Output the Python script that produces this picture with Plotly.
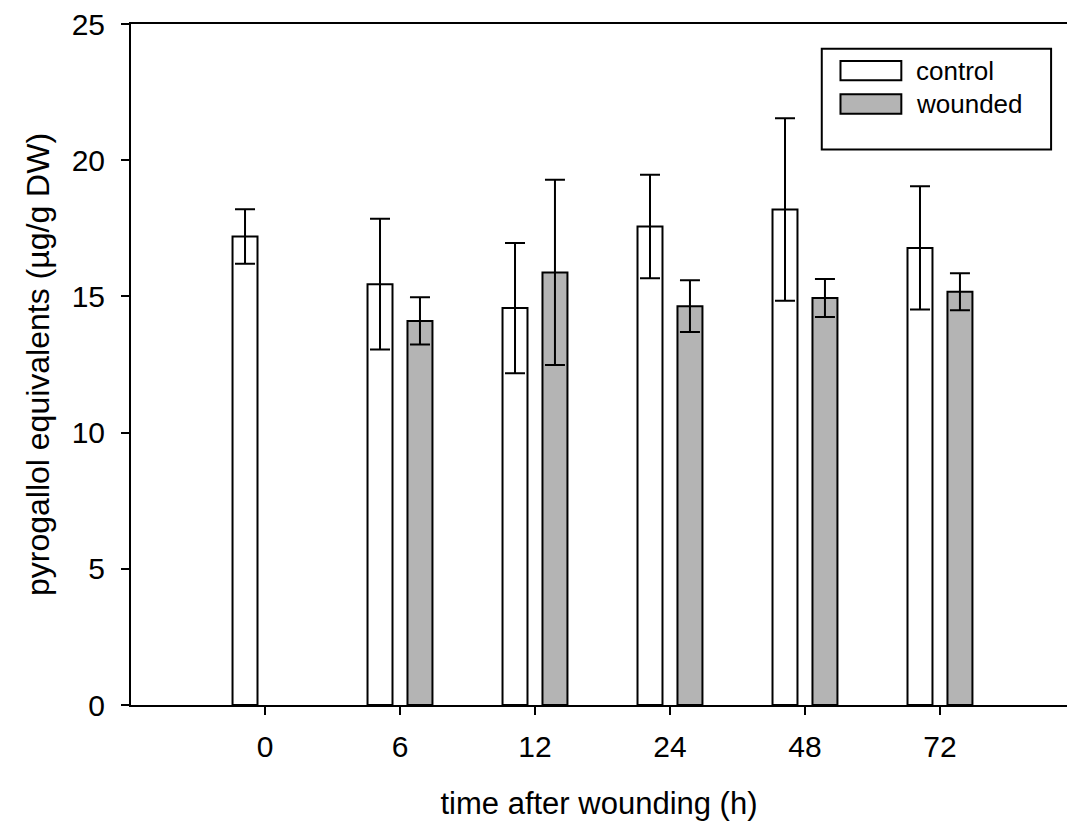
import plotly.graph_objects as go

# Sampling times (h) and group means / standard deviations
times = ["0", "6", "12", "24", "48", "72"]
control = [17.2, 15.45, 14.57, 17.57, 18.19, 16.78]
control_sd = [1.0, 2.4, 2.39, 1.9, 3.35, 2.26]
wounded = [None, 14.1, 15.88, 14.64, 14.94, 15.17]
wounded_sd = [None, 0.87, 3.4, 0.95, 0.7, 0.68]
series_names = ["control", "wounded"]
y_ticks = [0, 5, 10, 15, 20, 25]

FONT = "Liberation Sans, Arial, sans-serif"
GRAY = "#b4b4b4"
pos = list(range(len(times)))

BAR_W = 0.185
HALF_GAP = 0.148

fig = go.Figure()
fig.add_trace(go.Bar(
    x=pos, y=control, name=series_names[0],
    width=BAR_W, offset=-HALF_GAP - BAR_W / 2,
    marker=dict(color="white", line=dict(color="black", width=2)),
    error_y=dict(type="data", array=control_sd, visible=True,
                 color="black", thickness=2, width=10),
    showlegend=False,
))
fig.add_trace(go.Bar(
    x=pos, y=wounded, name=series_names[1],
    width=BAR_W, offset=HALF_GAP - BAR_W / 2,
    marker=dict(color=GRAY, line=dict(color="black", width=2)),
    error_y=dict(type="data", array=wounded_sd, visible=True,
                 color="black", thickness=2, width=10),
    showlegend=False,
))

# Boxed legend with wide swatches
lx0, lx1, ly0, ly1 = 0.738, 0.983, 0.8156, 0.9636
fig.add_shape(type="rect", xref="paper", yref="paper",
              x0=lx0, x1=lx1, y0=ly0, y1=ly1,
              line=dict(color="black", width=2), fillcolor="white", layer="above")
swatch_fill = ["white", GRAY]
row_y = [0.9315, 0.8825]
for name, fill, yc in zip(series_names, swatch_fill, row_y):
    fig.add_shape(type="rect", xref="paper", yref="paper",
                  x0=0.758, x1=0.823, y0=yc - 0.0142, y1=yc + 0.0142,
                  line=dict(color="black", width=2), fillcolor=fill, layer="above")
    fig.add_annotation(xref="paper", yref="paper", x=0.837, y=yc,
                       text=name, showarrow=False, xanchor="left", yanchor="middle",
                       font=dict(family=FONT, size=26, color="black"))

fig.update_layout(
    width=1067, height=833,
    margin=dict(l=131, r=0, t=24, b=128),
    paper_bgcolor="white", plot_bgcolor="white",
    barmode="overlay",
    font=dict(family=FONT, size=30, color="black"),
    xaxis=dict(
        range=[-0.9926, 5.941],
        tickmode="array", tickvals=pos, ticktext=times,
        ticks="outside", ticklen=8, tickwidth=2, tickcolor="black",
        showline=True, linecolor="black", linewidth=2, mirror=True,
        showgrid=False, zeroline=False,
        tickfont=dict(size=30), ticklabelstandoff=6,
        title=dict(text="time after wounding (h)", font=dict(size=31), standoff=30),
    ),
    yaxis=dict(
        range=[0, 25],
        tickmode="array", tickvals=y_ticks,
        ticks="outside", ticklen=8, tickwidth=2, tickcolor="black",
        showline=True, linecolor="black", linewidth=2, mirror=False,
        showgrid=False, zeroline=False,
        tickfont=dict(size=30), ticklabelstandoff=10,
        title=dict(text="pyrogallol equivalents (µg/g DW)", font=dict(size=32), standoff=12),
    ),
)

fig.write_html("out.html")
